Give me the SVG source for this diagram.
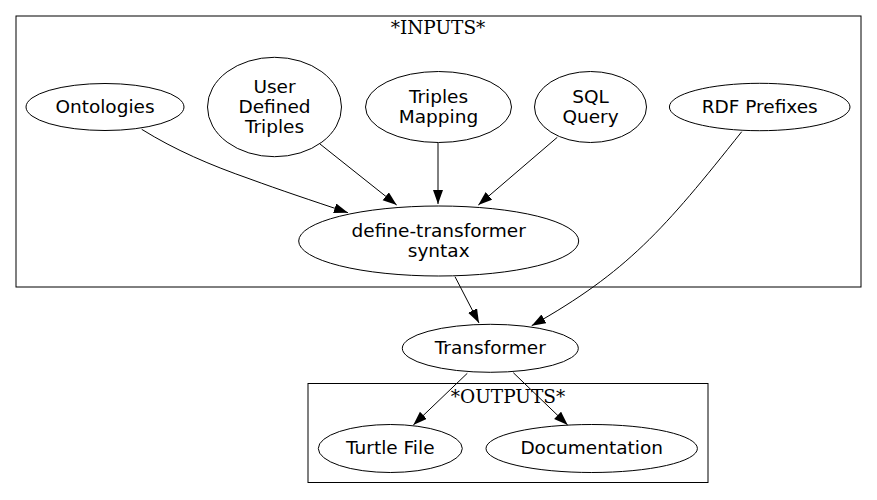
<svg xmlns="http://www.w3.org/2000/svg" width="877" height="500" viewBox="0 0 877 500">
<style>
  .bg{fill:#ffffff}
  .cluster{fill:none;stroke:#000;stroke-width:1}
  .node ellipse{fill:none;stroke:#000;stroke-width:1}
  .node text{font-family:"DejaVu Sans",sans-serif;font-size:18.5px;fill:#000;text-anchor:middle}
  .clabel{font-family:"DejaVu Serif",serif;font-size:18.5px;fill:#000;text-anchor:middle}
  .edge{fill:none;stroke:#000;stroke-width:1;marker-end:url(#ah)}
</style>
<defs>
  <marker id="ah" markerUnits="userSpaceOnUse" markerWidth="15" markerHeight="11" refX="14" refY="5" orient="auto" viewBox="0 0 15 11">
    <path d="M0,0 L14,5 L0,10 Z" fill="#000"/>
  </marker>
</defs>
<rect class="bg" x="0" y="0" width="877" height="500"/>

<g id="cluster_inputs">
  <rect class="cluster" x="16" y="16" width="845" height="271"/>
  <text class="clabel" x="438" y="33.5">*INPUTS*</text>
</g>
<g id="cluster_outputs">
  <rect class="cluster" x="308" y="383.5" width="400" height="99"/>
  <text class="clabel" x="508" y="402.5">*OUTPUTS*</text>
</g>

<g id="edges">
  <path class="edge" d="M141.7,129.3 C175,150 210,165 250,179 C280,190 310,200 348,212.7"/>
  <path class="edge" d="M320,144 L396.7,205"/>
  <path class="edge" d="M438,143 L438,204"/>
  <path class="edge" d="M557.3,137.3 L478.3,205"/>
  <path class="edge" d="M741.7,131.7 C664.2,229.2 627.4,271.8 531.7,325.7"/>
  <path class="edge" d="M455,276.7 L479,323"/>
  <path class="edge" d="M467.3,373.3 L413.3,425"/>
  <path class="edge" d="M513.3,372.7 L567.7,425"/>
</g>

<g id="node_ontologies" class="node">
  <ellipse cx="105" cy="107" rx="79" ry="23.5"/>
  <text x="105" y="112.5">Ontologies</text>
</g>
<g id="node_udt" class="node">
  <ellipse cx="274.5" cy="107" rx="67" ry="49.7"/>
  <text x="274.5" y="92.5">User</text>
  <text x="274.5" y="112.5">Defined</text>
  <text x="274.5" y="132.5">Triples</text>
</g>
<g id="node_tm" class="node">
  <ellipse cx="438.5" cy="107" rx="73" ry="35.5"/>
  <text x="438.5" y="102.5">Triples</text>
  <text x="438.5" y="122.5">Mapping</text>
</g>
<g id="node_sql" class="node">
  <ellipse cx="590.5" cy="107" rx="56" ry="35.5"/>
  <text x="590.5" y="102.5">SQL</text>
  <text x="590.5" y="122.5">Query</text>
</g>
<g id="node_rdf" class="node">
  <ellipse cx="759.7" cy="107" rx="90.3" ry="23.7"/>
  <text x="759.7" y="112.5">RDF Prefixes</text>
</g>
<g id="node_define" class="node">
  <ellipse cx="438.7" cy="241" rx="140" ry="35"/>
  <text x="438.7" y="236.5">define-transformer</text>
  <text x="438.7" y="256.5">syntax</text>
</g>
<g id="node_transformer" class="node">
  <ellipse cx="490.3" cy="348.3" rx="88" ry="24"/>
  <text x="490.3" y="353.8">Transformer</text>
</g>
<g id="node_turtle" class="node">
  <ellipse cx="390.3" cy="448.5" rx="72" ry="24"/>
  <text x="390.3" y="454">Turtle File</text>
</g>
<g id="node_doc" class="node">
  <ellipse cx="591.7" cy="448.5" rx="105.7" ry="24"/>
  <text x="591.7" y="454">Documentation</text>
</g>
</svg>
